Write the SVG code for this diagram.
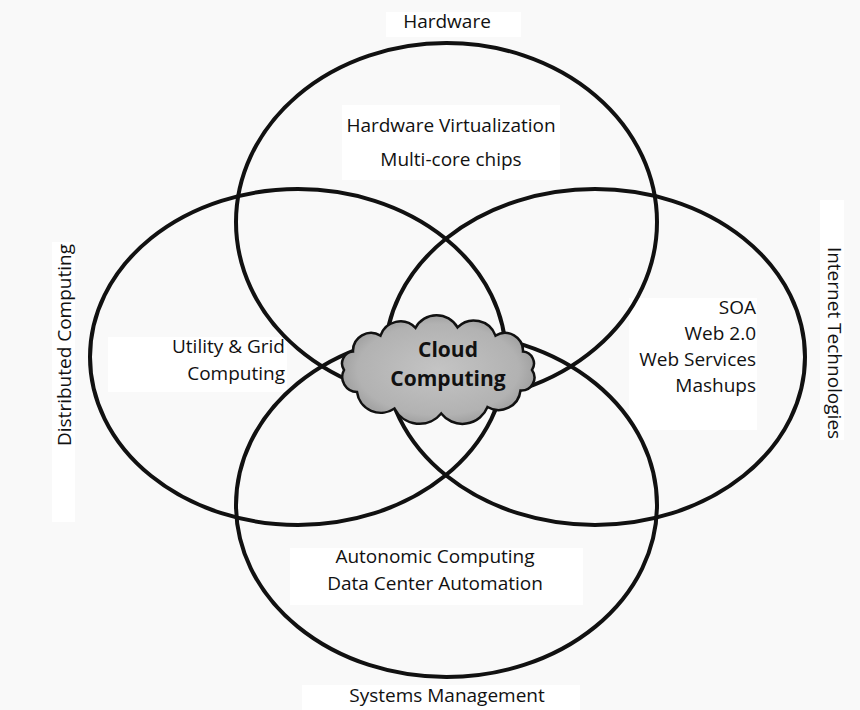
<svg xmlns="http://www.w3.org/2000/svg" width="860" height="710" viewBox="0 0 860 710">
<defs>
<radialGradient id="cloudGrad" cx="0.5" cy="0.5" r="0.6">
<stop offset="0" stop-color="#c4c4c4"/>
<stop offset="0.7" stop-color="#b2b2b2"/>
<stop offset="1" stop-color="#8e8e8e"/>
</radialGradient>
</defs>
<style>
.ring{fill:none;stroke:#111;stroke-width:4}
.lbl{font-family:"Open Sans","Liberation Sans",sans-serif;font-size:19px;fill:#111}
.mid{text-anchor:middle}
.end{text-anchor:end}
.patch{fill:#ffffff}
.cloud{fill:url(#cloudGrad);stroke:#111;stroke-width:2.5}
.ctext{font-family:"Open Sans","Liberation Sans",sans-serif;font-size:21px;font-weight:bold;fill:#111;text-anchor:middle}
</style>
<rect x="0" y="0" width="860" height="710" fill="#f9f9f9"/>
<g id="patches">
<rect class="patch" x="386" y="12" width="135" height="25"/>
<rect class="patch" x="52" y="242" width="23" height="280"/>
<rect class="patch" x="820" y="200" width="24" height="240"/>
<rect class="patch" x="108" y="337" width="179" height="55"/>
<rect class="patch" x="629" y="298" width="128" height="132"/>
<rect class="patch" x="342" y="105" width="218" height="75"/>
<rect class="patch" x="290" y="548" width="293" height="57"/>
<rect class="patch" x="302" y="685" width="278" height="25"/>
</g>
<g id="connectors">
<ellipse class="ring" cx="446.5" cy="222" rx="210.5" ry="179"/>
<ellipse class="ring" cx="298" cy="357" rx="208" ry="168"/>
<ellipse class="ring" cx="595" cy="357" rx="210" ry="168"/>
<ellipse class="ring" cx="446.5" cy="505" rx="210.5" ry="172"/>
</g>
<g id="hardware">
<text class="lbl mid" x="447" y="28">Hardware</text>
<text class="lbl mid" x="451" y="132">Hardware Virtualization</text>
<text class="lbl mid" x="451" y="166">Multi-core chips</text>
</g>
<g id="distributed">
<text class="lbl mid" transform="translate(71,345) rotate(-90)">Distributed Computing</text>
<text class="lbl end" x="285" y="353">Utility &amp; Grid</text>
<text class="lbl end" x="285" y="380">Computing</text>
</g>
<g id="internet">
<text class="lbl mid" transform="translate(828,343) rotate(90)">Internet Technologies</text>
<text class="lbl end" x="756" y="314">SOA</text>
<text class="lbl end" x="756" y="340">Web 2.0</text>
<text class="lbl end" x="756" y="366">Web Services</text>
<text class="lbl end" x="756" y="392">Mashups</text>
</g>
<g id="systems">
<text class="lbl mid" x="435" y="563">Autonomic Computing</text>
<text class="lbl mid" x="435" y="590">Data Center Automation</text>
<text class="lbl mid" x="447" y="702">Systems Management</text>
</g>
<g id="cloud">
<path class="cloud" d="M344,370 A12,12 0 0 1 353,351.5 A18,18 0 0 1 380.5,335.6 A21,21 0 0 1 415.5,327.8 A24,24 0 0 1 457.5,327.4 A23,23 0 0 1 495.5,335.6 A18,18 0 0 1 523,351.5 A12,12 0 0 1 532,370 A13,13 0 0 1 520.5,390.5 A22,22 0 0 1 487.5,407 A27,27 0 0 1 441.2,413.5 A28,28 0 0 1 394.5,408.5 A24,24 0 0 1 357,392 A15,15 0 0 1 344,370 Z"/>
<text class="ctext" x="448" y="357">Cloud</text>
<text class="ctext" x="448" y="386">Computing</text>
</g>
</svg>
